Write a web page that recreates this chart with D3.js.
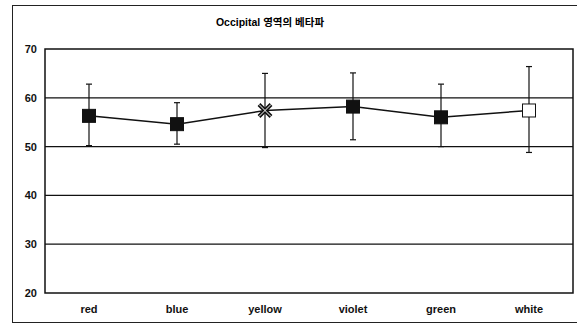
<!DOCTYPE html>
<html>
<head>
<meta charset="utf-8">
<script src="https://cdn.jsdelivr.net/npm/d3@7"></script>
<style>
  body { margin: 0; background: #fff; }
  svg { display: block; font-family: Arial, "Liberation Sans", sans-serif; }
  .tick text { font-weight: bold; font-size: 11px; fill: #111; }
</style>
</head>
<body>
<script>
// colour conditions and the mean / error range
const colors = ['red', 'blue', 'yellow', 'violet', 'green', 'white'];
const means = [56.3, 54.6, 57.4, 58.2, 56.0, 57.4];
const upper = [62.8, 59.0, 65.0, 65.1, 62.8, 66.4];
const lower = [50.2, 50.5, 49.8, 51.4, 50.0, 48.8];
const markers = ['filled', 'filled', 'cross', 'filled', 'filled', 'open'];
const yTicks = [20, 30, 40, 50, 60, 70];

const W = 577, H = 325;
const margin = {top: 49, right: 4, bottom: 32, left: 45};
const width = W - margin.left - margin.right;
const height = H - margin.top - margin.bottom;

const svg = d3.select('body').append('svg').attr('width', W).attr('height', H);

// outer frame
svg.append('rect')
  .attr('x', 12.5).attr('y', 5.5).attr('width', 580).attr('height', 317)
  .attr('fill', 'none').attr('stroke', '#222').attr('stroke-width', 1);

svg.append('text')
  .attr('x', 270).attr('y', 26)
  .attr('text-anchor', 'middle')
  .attr('font-size', 10.5).attr('font-weight', 'bold')
  .attr('font-family', 'Arial, "Noto Sans CJK KR", sans-serif')
  .text('Occipital 영역의 베타파');

const g = svg.append('g').attr('transform', `translate(${margin.left},${margin.top})`);

const x = d3.scaleBand().domain(colors).range([0, width]);
const y = d3.scaleLinear().domain([20, 70]).range([height, 0]);

//grid lines
g.selectAll('line.grid')
  .data(yTicks.slice(1, -1))
  .join('line')
  .attr('class', 'grid')
  .attr('x1', 0).attr('x2', width)
  .attr('y1', d => y(d)).attr('y2', d => y(d))
  .attr('stroke', '#111').attr('stroke-width', 1.3);

g.append('rect')
  .attr('width', width).attr('height', height)
  .attr('fill', 'none').attr('stroke', '#111').attr('stroke-width', 1.5);

g.append('g')
  .call(d3.axisLeft(y).tickValues(yTicks).tickSize(0).tickPadding(8))
  .call(a => a.select('.domain').remove());

g.append('g')
  .attr('transform', `translate(0,${height})`)
  .call(d3.axisBottom(x).tickSize(0).tickPadding(12))
  .call(a => a.select('.domain').remove())
  .selectAll('text').attr('font-size', 10);

const cx = d => x(d) + x.bandwidth() / 2;

// error bars
const eb = g.selectAll('g.err').data(colors).join('g').attr('class', 'err');
eb.append('line')
  .attr('x1', d => cx(d)).attr('x2', d => cx(d))
  .attr('y1', (d, i) => y(upper[i])).attr('y2', (d, i) => y(lower[i]))
  .attr('stroke', '#111').attr('stroke-width', 1.2);
eb.append('line')
  .attr('x1', d => cx(d) - 3).attr('x2', d => cx(d) + 3)
  .attr('y1', (d, i) => y(upper[i])).attr('y2', (d, i) => y(upper[i]))
  .attr('stroke', '#111').attr('stroke-width', 1.2);
eb.append('line')
  .attr('x1', d => cx(d) - 3).attr('x2', d => cx(d) + 3)
  .attr('y1', (d, i) => y(lower[i])).attr('y2', (d, i) => y(lower[i]))
  .attr('stroke', '#111').attr('stroke-width', 1.2);

const line = d3.line().x(d => cx(d)).y((d, i) => y(means[i]));
g.append('path')
  .datum(colors)
  .attr('d', line)
  .attr('fill', 'none').attr('stroke', '#111').attr('stroke-width', 1.5);

// markers
const s = 13;
colors.forEach((c, i) => {
  const px = cx(c), py = y(means[i]);
  if (markers[i] === 'cross') {
    const xp = `M${px - 6},${py - 6}L${px + 6},${py + 6}M${px - 6},${py + 6}L${px + 6},${py - 6}`;
    g.append('path').attr('d', xp).attr('stroke', '#111').attr('stroke-width', 4);
    g.append('path').attr('d', xp).attr('stroke', '#fff').attr('stroke-width', 1);
  } else {
    g.append('rect')
      .attr('x', px - s / 2).attr('y', py - s / 2)
      .attr('width', s).attr('height', s)
      .attr('fill', markers[i] === 'open' ? '#fff' : '#111')
      .attr('stroke', '#111').attr('stroke-width', 1);
  }
});
</script>
</body>
</html>
